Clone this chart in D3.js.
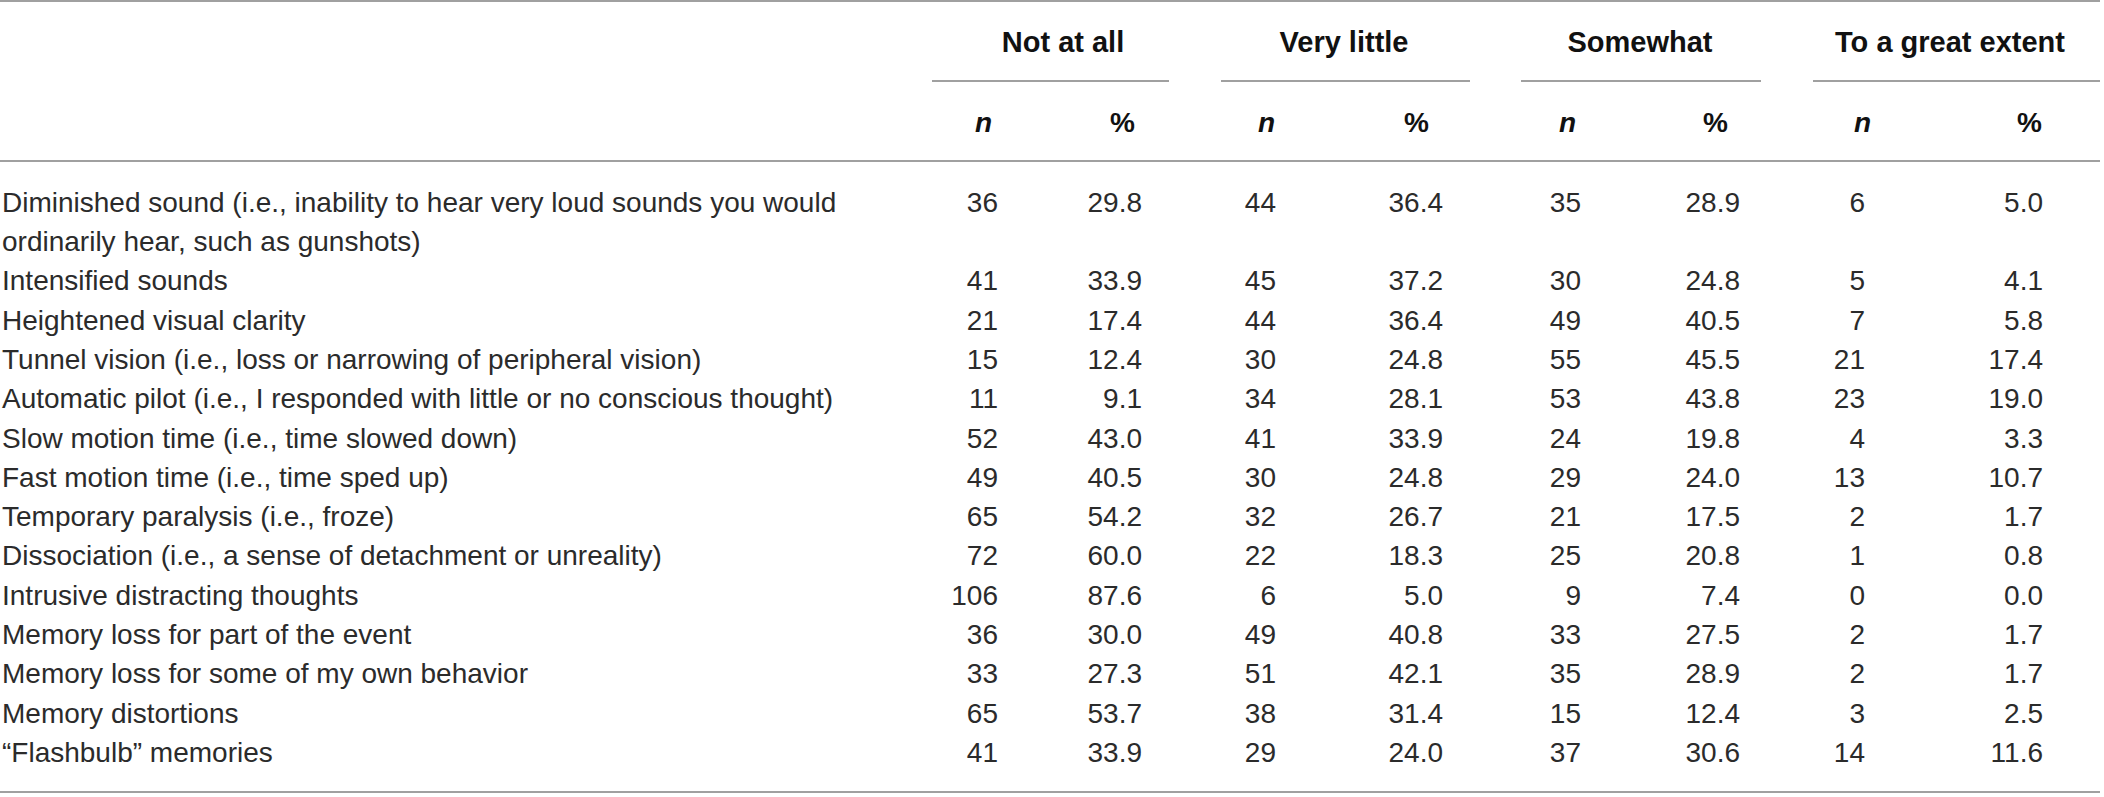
<!DOCTYPE html>
<html>
<head>
    <meta charset="utf-8">
    <title></title>
    <script src="https://d3js.org/d3.v7.min.js"></script>
    <style>
        body { margin: 0; background: #fff; }
        text { font-family: 'Liberation Sans', Arial, sans-serif; }
    </style>
</head>
<body>
    <svg width="2104" height="797" id="svg1"></svg>
</body>
<script>
// row labels, a "\n" marks where the cell wraps
var items = [
    "Diminished sound (i.e., inability to hear very loud sounds you would\nordinarily hear, such as gunshots)",
    "Intensified sounds",
    "Heightened visual clarity",
    "Tunnel vision (i.e., loss or narrowing of peripheral vision)",
    "Automatic pilot (i.e., I responded with little or no conscious thought)",
    "Slow motion time (i.e., time slowed down)",
    "Fast motion time (i.e., time sped up)",
    "Temporary paralysis (i.e., froze)",
    "Dissociation (i.e., a sense of detachment or unreality)",
    "Intrusive distracting thoughts",
    "Memory loss for part of the event",
    "Memory loss for some of my own behavior",
    "Memory distortions",
    "\u201cFlashbulb\u201d memories"
];
var groups = ["Not at all", "Very little", "Somewhat", "To a great extent"];

var nNotAtAll = [36, 41, 21, 15, 11, 52, 49, 65, 72, 106, 36, 33, 65, 41];
var pNotAtAll = [29.8, 33.9, 17.4, 12.4, 9.1, 43.0, 40.5, 54.2, 60.0, 87.6, 30.0, 27.3, 53.7, 33.9];
var nVeryLittle = [44, 45, 44, 30, 34, 41, 30, 32, 22, 6, 49, 51, 38, 29];
var pVeryLittle = [36.4, 37.2, 36.4, 24.8, 28.1, 33.9, 24.8, 26.7, 18.3, 5.0, 40.8, 42.1, 31.4, 24.0];
var nSomewhat = [35, 30, 49, 55, 53, 24, 29, 21, 25, 9, 33, 35, 15, 37];
var pSomewhat = [28.9, 24.8, 40.5, 45.5, 43.8, 19.8, 24.0, 17.5, 20.8, 7.4, 27.5, 28.9, 12.4, 30.6];
var nGreat = [6, 5, 7, 21, 23, 4, 13, 2, 1, 0, 2, 2, 3, 14];
var pGreat = [5.0, 4.1, 5.8, 17.4, 19.0, 3.3, 10.7, 1.7, 0.8, 0.0, 1.7, 1.7, 2.5, 11.6];

var svg = d3.select("#svg1");
var lineColor = "#a0a0a0",
    textColor = "#2b2b2b",
    fontSize = 28;

// columns: group index + sub column
var columns = [
    {g: 0, key: "n", vals: nNotAtAll}, {g: 0, key: "%", vals: pNotAtAll},
    {g: 1, key: "n", vals: nVeryLittle}, {g: 1, key: "%", vals: pVeryLittle},
    {g: 2, key: "n", vals: nSomewhat}, {g: 2, key: "%", vals: pSomewhat},
    {g: 3, key: "n", vals: nGreat}, {g: 3, key: "%", vals: pGreat}
];
columns.forEach(function(c, i){ c.id = i; });

// right edge of the numbers in every column
var xCol = d3.scaleOrdinal()
    .domain(d3.range(8))
    .range([998, 1142, 1276, 1443, 1581, 1740, 1865, 2043]);
// left edge of the sub header (n / %)
var xSub = d3.scaleOrdinal()
    .domain(d3.range(8))
    .range([975, 1110, 1258, 1404, 1559, 1703, 1854, 2017]);
// group header centre and underline span
var xGroup = d3.scaleOrdinal().domain(groups).range([1063, 1344, 1640, 1950]);
var spanGroup = d3.scaleOrdinal().domain(groups)
    .range([[932, 1169], [1221, 1470], [1521, 1761], [1813, 2100]]);

// text lines: the first item takes two lines
var lines = [];
items.forEach(function(d, i){
    d.split("\n").forEach(function(t, j){
        lines.push({row: i, sub: j, text: t});
    });
});
var y = d3.scaleLinear().domain([0, lines.length - 1]).range([211.7, 762]);
var rowLine = items.map(function(d, i){
    return lines.findIndex(function(l){ return l.row === i; });
});

// rules
var rules = [1, 161, 792];
svg.selectAll(".rule")
    .data(rules)
    .enter()
    .append("line")
    .attr("class", "rule")
    .attr("x1", 0)
    .attr("x2", 2100)
    .attr("y1", function(d){ return d; })
    .attr("y2", function(d){ return d; })
    .attr("stroke", lineColor)
    .attr("stroke-width", 2);

svg.selectAll(".group-rule")
    .data(groups)
    .enter()
    .append("line")
    .attr("class", "group-rule")
    .attr("x1", function(d){ return spanGroup(d)[0]; })
    .attr("x2", function(d){ return spanGroup(d)[1]; })
    .attr("y1", 81)
    .attr("y2", 81)
    .attr("stroke", lineColor)
    .attr("stroke-width", 2);

// headers
svg.selectAll(".group-head")
    .data(groups)
    .enter()
    .append("text")
    .attr("class", "group-head")
    .attr("x", function(d){ return xGroup(d); })
    .attr("y", 52)
    .attr("text-anchor", "middle")
    .attr("font-size", 29)
    .attr("font-weight", "bold")
    .attr("fill", "#111")
    .text(function(d){ return d; });

svg.selectAll(".sub-head")
    .data(columns)
    .enter()
    .append("text")
    .attr("class", "sub-head")
    .attr("x", function(d){ return xSub(d.id); })
    .attr("y", 132)
    .attr("font-size", fontSize)
    .attr("font-weight", "bold")
    .attr("font-style", function(d){ return d.key === "n" ? "italic" : "normal"; })
    .attr("fill", "#111")
    .text(function(d){ return d.key; });

// item labels
svg.selectAll(".label")
    .data(lines)
    .enter()
    .append("text")
    .attr("class", "label")
    .attr("x", 2)
    .attr("y", function(d, i){ return y(i); })
    .attr("font-size", fontSize)
    .attr("fill", textColor)
    .text(function(d){ return d.text; });

// numbers
var col = svg.selectAll(".col")
    .data(columns)
    .enter()
    .append("g")
    .attr("class", "col");

col.selectAll("text")
    .data(function(c){
        return c.vals.map(function(v, i){
            return {id: c.id, row: i, text: c.key === "%" ? v.toFixed(1) : String(v)};
        });
    })
    .enter()
    .append("text")
    .attr("x", function(d){ return xCol(d.id); })
    .attr("y", function(d){ return y(rowLine[d.row]); })
    .attr("text-anchor", "end")
    .attr("font-size", fontSize)
    .attr("fill", textColor)
    .text(function(d){ return d.text; });
</script>
</html>
